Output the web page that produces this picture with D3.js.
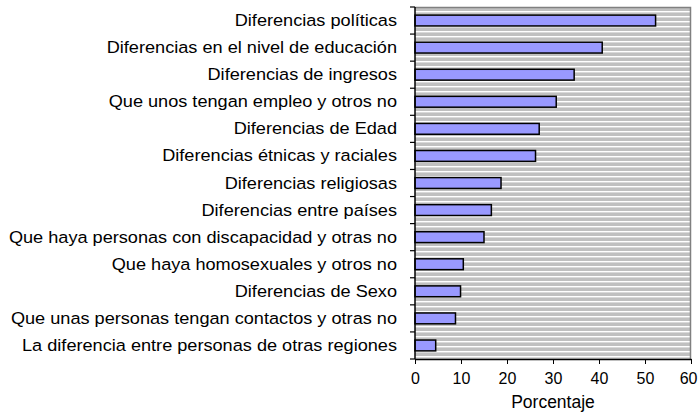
<!DOCTYPE html>
<html>
<head>
<meta charset="utf-8">
<script src="https://cdn.jsdelivr.net/npm/d3@7"></script>
<style>
  body { margin: 0; background: #fff; }
  text { font-family: "Liberation Sans", Arial, sans-serif; fill: #000; }
</style>
</head>
<body>
<script>
// categories, top to bottom
let categories = [
  "Diferencias políticas",
  "Diferencias en el nivel de educación",
  "Diferencias de ingresos",
  "Que unos tengan empleo y otros no",
  "Diferencias de Edad",
  "Diferencias étnicas y raciales",
  "Diferencias religiosas",
  "Diferencias entre países",
  "Que haya personas con discapacidad y otras no",
  "Que haya homosexuales y otros no",
  "Diferencias de Sexo",
  "Que unas personas tengan contactos y otras no",
  "La diferencia entre personas de otras regiones"
];
let values = [52.3, 40.7, 34.6, 30.7, 27.0, 26.2, 18.7, 16.6, 15.0, 10.5, 9.9, 8.8, 4.5];
let xTicks = [0, 10, 20, 30, 40, 50, 60];
let xTitle = "Porcentaje";

let width = 698, height = 418;
let margin = {top: 7, right: 7, bottom: 59, left: 415};
let w = width - margin.left - margin.right,
    h = height - margin.top - margin.bottom;

let svg = d3.select("body").append("svg")
    .attr("width", width)
    .attr("height", height);

// striped background like the old excel pattern
let defs = svg.append("defs");
let pat = defs.append("pattern")
    .attr("id", "stripes")
    .attr("patternUnits", "userSpaceOnUse")
    .attr("x", 0).attr("y", margin.top + 2)
    .attr("width", 8).attr("height", 5);
pat.append("rect").attr("width", 8).attr("height", 5).attr("fill", "#c0c0c0");
pat.append("rect").attr("y", 0).attr("width", 8).attr("height", 1.4).attr("fill", "#ffffff");

let g = svg.append("g")
    .attr("transform", "translate(" + margin.left + "," + margin.top + ")");

let x = d3.scaleLinear().domain([0, 60]).range([0, w]);
let y = d3.scaleBand().domain(categories).range([0, h]).paddingInner(0.6).paddingOuter(0.3);
let yb = d3.scaleBand().domain(categories).range([0, h]);

g.append("rect")
    .attr("width", w).attr("height", h)
    .attr("fill", "url(#stripes)");

// gray frame top + right
g.append("path")
    .attr("d", "M0,0.5H" + (w - 0.5) + "V" + h)
    .attr("fill", "none")
    .attr("stroke", "#808080")
    .attr("stroke-width", 1.5);

// bars
g.selectAll(".bar")
    .data(values)
    .enter()
  .append("rect")
    .attr("class", "bar")
    .attr("x", x(0))
    .attr("y", (d, i) => y(categories[i]))
    .attr("width", d => x(d) - x(0))
    .attr("height", y.bandwidth())
    .attr("fill", "#9999ff")
    .attr("stroke", "#000")
    .attr("stroke-width", 1.5);

// x axis
let xAxis = d3.axisBottom(x).tickValues(xTicks).tickSize(5).tickPadding(9).tickSizeOuter(0);
let gx = g.append("g")
    .attr("transform", "translate(0," + h + ")")
    .call(xAxis);
gx.select(".domain").attr("stroke-width", 1.5);
gx.selectAll("text").style("font-size", "16px").attr("font-family", null);
// keep the last label inside the window
gx.selectAll(".tick").filter(d => d === 60).select("text")
    .attr("text-anchor", "end").attr("x", 6);

// y axis: line with ticks between categories
g.append("line")
    .attr("x1", 0).attr("x2", 0).attr("y1", 0).attr("y2", h)
    .attr("stroke", "#000").attr("stroke-width", 1.5);
let bounds = d3.range(categories.length + 1).map(i => i * yb.step());
g.selectAll(".ytick")
    .data(bounds)
    .enter()
  .append("line")
    .attr("x1", -5).attr("x2", 0)
    .attr("y1", d => d).attr("y2", d => d)
    .attr("stroke", "#000").attr("stroke-width", 1.2);

g.selectAll(".ylab")
    .data(categories)
    .enter()
  .append("text")
    .attr("class", "ylab")
    .attr("text-anchor", "end")
    .attr("transform", d => "translate(-18," + (yb(d) + yb.bandwidth() / 2 + 5.5) + ") scale(1.1,1)")
    .style("font-size", "16.5px")
    .text(d => d);

g.append("text")
    .attr("x", w / 2)
    .attr("y", h + 49)
    .attr("text-anchor", "middle")
    .style("font-size", "17.5px")
    .text(xTitle);
</script>
</body>
</html>
